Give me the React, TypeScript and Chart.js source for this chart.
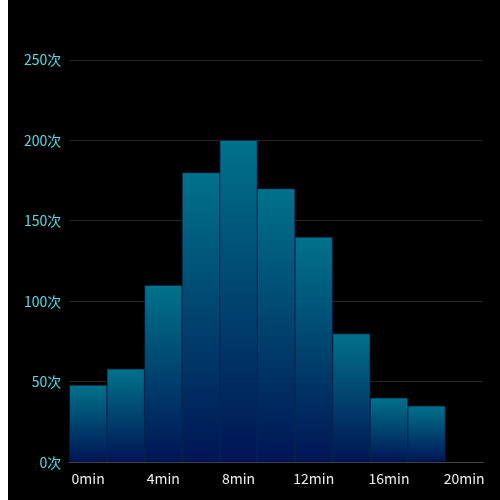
import React, { useEffect, useRef } from "react";
import { Chart, registerables } from "chart.js";

Chart.register(...registerables);

const categories = ["0min", "2min", "4min", "6min", "8min", "10min", "12min", "14min", "16min", "18min", "20min"];
const counts = [48, 58, 110, 180, 200, 170, 140, 80, 40, 35, null];
const yTicks = [0, 50, 100, 150, 200, 250];

export default function App() {
  const ref = useRef<HTMLCanvasElement | null>(null);
  useEffect(() => {
    if (!ref.current) return;
    const chart = new Chart(ref.current, {
      type: "bar",
      data: {
        labels: categories,
        datasets: [
          {
            data: counts as any,
            barPercentage: 1,
            categoryPercentage: 1,
            borderWidth: 1,
            borderColor: "rgba(0,45,90,0.8)",
            backgroundColor: (ctx: any) => {
              const c = ctx.chart;
              const ys = c.scales?.y;
              if (!ys || ctx.raw == null) return "rgba(0,110,140,0.9)";
              const top = ys.getPixelForValue(ctx.raw);
              const bottom = ys.getPixelForValue(0);
              if (!isFinite(top) || !isFinite(bottom) || top === bottom) return "rgba(0,110,140,0.9)";
              const g = c.ctx.createLinearGradient(0, top, 0, bottom);
              g.addColorStop(0, "rgba(0,124,150,0.92)");
              g.addColorStop(1, "rgba(0,22,92,0.92)");
              return g;
            },
          },
        ],
      },
      options: {
        animation: false,
        responsive: false,
        maintainAspectRatio: false,
        layout: { padding: { top: 60, right: 17, left: 8, bottom: 13 } },
        plugins: { legend: { display: false }, tooltip: { enabled: false } },
        scales: {
          x: {
            grid: { display: false },
            border: { color: "#444", width: 1 },
            ticks: {
              color: "#eeeeee",
              autoSkip: false,
              maxRotation: 0,
              padding: 0,
              font: { size: 14, family: "'Noto Sans CJK SC', 'Noto Sans', sans-serif" },
              callback: (_v: any, i: number) => (i % 2 === 0 ? categories[i] : ""),
            },
          },
          y: {
            min: yTicks[0],
            max: yTicks[yTicks.length - 1],
            afterBuildTicks: (axis: any) => {
              axis.ticks = yTicks.map((v) => ({ value: v }));
            },
            grid: { color: "#252525", drawTicks: false },
            border: { display: false },
            ticks: {
              color: "#55dbe8",
              padding: 8,
              font: { size: 14, family: "'Noto Sans CJK SC', 'Noto Sans', sans-serif" },
              callback: (v: any) => v + "次",
            },
          },
        },
      },
    });
    chart.update();
    return () => chart.destroy();
  }, []);
  return (
    <div style={{ position: "absolute", top: 0, left: 8, width: 492, height: 500, background: "#000" }}>
      <canvas ref={ref} width={492} height={500} style={{ display: "block" }} />
    </div>
  );
}
